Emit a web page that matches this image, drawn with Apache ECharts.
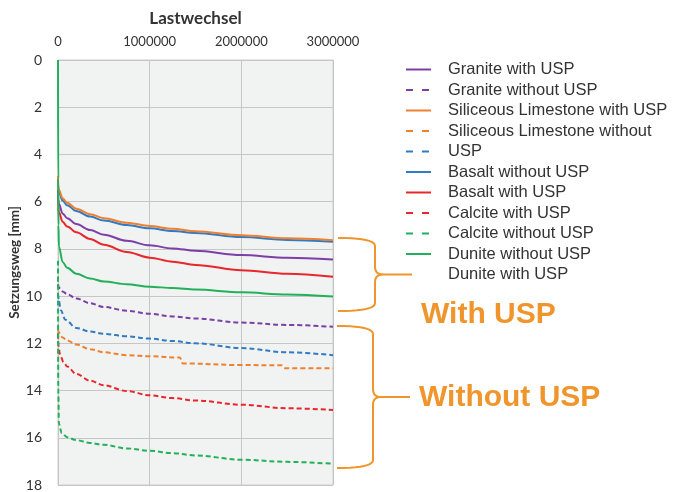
<!DOCTYPE html>
<html>
<head>
<meta charset="utf-8">
<script src="https://cdn.jsdelivr.net/npm/echarts@6/dist/echarts.min.js"></script>
<style>
  html, body { margin: 0; padding: 0; background: #fff; }
  #main { width: 678px; height: 492px; }
</style>
</head>
<body>
<div id="main"></div>
<script>
// tick labels
var xTicks = [0, 1000000, 2000000, 3000000];
var yTicks = [0, 2, 4, 6, 8, 10, 12, 14, 16, 18];

// [Lastwechsel, Setzungsweg mm]
var graniteWith = [[0, 5.5], [2000, 5.9], [10000, 6.1], [50000, 6.5], [100000, 6.7], [200000, 6.95], [350000, 7.2], [500000, 7.4], [750000, 7.66], [1000000, 7.85], [1250000, 7.98], [1500000, 8.08], [2000000, 8.26], [2500000, 8.38], [3000000, 8.45]];
var graniteWithout = [[0, 9.5], [10000, 9.65], [50000, 9.8], [100000, 9.92], [200000, 10.1], [350000, 10.3], [500000, 10.46], [750000, 10.62], [1000000, 10.75], [1250000, 10.86], [1500000, 10.95], [2000000, 11.12], [2500000, 11.22], [3000000, 11.3]];
var limestoneWith = [[0, 4.9], [2000, 5.3], [10000, 5.5], [50000, 5.85], [100000, 6.05], [200000, 6.3], [350000, 6.53], [500000, 6.7], [750000, 6.89], [1000000, 7.03], [1250000, 7.15], [1500000, 7.25], [2000000, 7.42], [2500000, 7.55], [3000000, 7.63]];
var limestoneWithout = [[0, 11.4], [10000, 11.55], [50000, 11.75], [100000, 11.88], [200000, 12.05], [350000, 12.25], [500000, 12.38], [750000, 12.5], [1000000, 12.55], [1330000, 12.6], [1360000, 12.85], [2000000, 12.92], [2440000, 12.93], [2470000, 13.05], [3000000, 13.06]];
var uspDashed = [[0, 9.9], [10000, 10.2], [30000, 10.6], [80000, 11.0], [200000, 11.35], [350000, 11.5], [500000, 11.6], [750000, 11.7], [1000000, 11.8], [1250000, 11.9], [1500000, 12.0], [2000000, 12.2], [2500000, 12.38], [3000000, 12.5]];
var basaltWithout = [[0, 5.0], [2000, 5.4], [10000, 5.6], [50000, 5.95], [100000, 6.15], [200000, 6.4], [350000, 6.63], [500000, 6.8], [750000, 6.99], [1000000, 7.13], [1250000, 7.24], [1500000, 7.33], [2000000, 7.5], [2500000, 7.62], [3000000, 7.7]];
var basaltWith = [[0, 5.8], [2000, 6.2], [10000, 6.45], [50000, 6.85], [100000, 7.05], [200000, 7.3], [350000, 7.58], [500000, 7.82], [750000, 8.13], [1000000, 8.37], [1250000, 8.54], [1500000, 8.68], [2000000, 8.9], [2500000, 9.05], [3000000, 9.18]];
var calciteWith = [[0, 11.6], [5000, 12.1], [20000, 12.45], [60000, 12.8], [100000, 12.98], [200000, 13.3], [350000, 13.58], [500000, 13.78], [750000, 14.02], [1000000, 14.2], [1250000, 14.32], [1500000, 14.42], [2000000, 14.6], [2500000, 14.75], [3000000, 14.82]];
var calciteWithout = [[0, 8.5], [3000, 14.0], [10000, 15.4], [40000, 15.8], [100000, 15.98], [200000, 16.1], [350000, 16.22], [500000, 16.3], [750000, 16.45], [1000000, 16.55], [1250000, 16.65], [1500000, 16.75], [2000000, 16.93], [2500000, 17.02], [3000000, 17.1]];
var duniteWithout = [[0, 0], [2000, 5.0], [5000, 7.0], [10000, 7.9], [50000, 8.55], [100000, 8.8], [200000, 9.05], [350000, 9.25], [500000, 9.38], [750000, 9.5], [1000000, 9.6], [1250000, 9.66], [1500000, 9.72], [2000000, 9.84], [2500000, 9.93], [3000000, 10.02]];

var seriesNames = [
  "Granite with USP",
  "Granite without USP",
  "Siliceous Limestone with USP",
  "Siliceous Limestone without",
  "USP",
  "Basalt without USP",
  "Basalt with USP",
  "Calcite with USP",
  "Calcite without USP",
  "Dunite without USP",
  "Dunite with USP"
];
var seriesData = [graniteWith, graniteWithout, limestoneWith, limestoneWithout, uspDashed, basaltWithout, basaltWith, calciteWith, calciteWithout, duniteWithout, []];
var seriesColors = ["#7b3fa6", "#7b3fa6", "#ee8030", "#ee8030", "#2f7bc4", "#2f7bc4", "#e8262b", "#e8262b", "#22b05a", "#22b05a", "transparent"];
var seriesDashed = [false, true, false, true, true, false, false, true, true, false, false];

function mkSeries(i) {
  return {
    name: seriesNames[i],
    type: "line",
    data: seriesData[i],
    showSymbol: false,
    symbol: "none",
    smooth: 0.35,
    smoothMonotone: "x",
    animation: false,
    z: seriesDashed[i] ? 3 : 4,
    itemStyle: { color: seriesColors[i] },
    lineStyle: {
      color: seriesColors[i],
      width: 2,
      type: seriesDashed[i] ? [5, 3] : "solid"
    }
  };
}

// draw order: blue solid under orange solid
var order = [0, 1, 3, 4, 5, 2, 6, 7, 8, 9, 10];
var series = order.map(mkSeries);

// curly brace outline as polyline points (annotation only)
function quad(pts, p0, c, p1) {
  for (var t = 0.1; t <= 1.001; t += 0.1) {
    var a = (1 - t) * (1 - t), b = 2 * (1 - t) * t, d = t * t;
    pts.push([a * p0[0] + b * c[0] + d * p1[0], a * p0[1] + b * c[1] + d * p1[1]]);
  }
}
function brace(x0, y0, y1, xm, xt) {
  var r = 8, ym = (y0 + y1) / 2;
  var top = [[x0, y0]];
  quad(top, [x0, y0], [xm, y0], [xm, y0 + r]);
  top.push([xm, ym - r]);
  quad(top, [xm, ym - r], [xm, ym], [xm + r, ym]);
  top.push([xt, ym]);
  var bot = [[xm + r, ym]];
  quad(bot, [xm + r, ym], [xm, ym], [xm, ym + r]);
  bot.push([xm, y1 - r]);
  quad(bot, [xm, y1 - r], [xm, y1], [x0, y1]);
  return [top, bot];
}

var orange = "#f0952c";
var braceParts = brace(338, 238, 311, 375, 412).concat(brace(337, 326, 468, 373, 410));
var graphics = braceParts.map(function (pts) {
  return {
    type: "polyline",
    shape: { points: pts },
    style: { fill: null, stroke: orange, lineWidth: 2 }
  };
});
graphics.push({
  type: "text",
  left: 421,
  top: 300,
  style: { text: "With USP", fill: orange, font: "bold 30px 'Liberation Sans'" }
});
graphics.push({
  type: "text",
  left: 419,
  top: 383,
  style: { text: "Without USP", fill: orange, font: "bold 30px 'Liberation Sans'" }
});

var option = {
  backgroundColor: "#fff",
  animation: false,
  grid: {
    left: 58,
    top: 60,
    right: 345,
    bottom: 7,
    show: true,
    backgroundColor: "#f1f2f2",
    borderColor: "#cfcfcf",
    borderWidth: 1
  },
  legend: {
    orient: "vertical",
    left: 405,
    top: 61,
    padding: 0,
    itemWidth: 25,
    itemHeight: 14,
    itemGap: 3.5,
    itemStyle: { opacity: 0 },
    data: seriesNames.map(function (n, i) {
      if (i === 10) return { name: n, icon: "none" };
      if (seriesDashed[i]) return { name: n, lineStyle: { type: [7, 9] } };
      return { name: n };
    }),
    textStyle: {
      fontFamily: "Liberation Sans",
      fontSize: 16.5,
      color: "#333",
      lineHeight: 14,
      padding: [0, 0, 0, 12]
    },
    selectedMode: false
  },
  xAxis: {
    type: "value",
    position: "top",
    min: 0,
    max: 3000000,
    interval: 1000000,
    name: "Lastwechsel",
    nameLocation: "middle",
    nameGap: 33,
    nameTextStyle: { fontFamily: "Lato", fontWeight: "bold", fontSize: 17, color: "#333" },
    axisLine: { show: false },
    axisTick: { show: false },
    axisLabel: {
      fontFamily: "Lato",
      fontSize: 13,
      color: "#333",
      margin: 12,
      formatter: function (v) { return xTicks.indexOf(v) >= 0 ? String(v) : ""; }
    },
    splitLine: { show: true, lineStyle: { color: "#c6c6c6", width: 1 } }
  },
  yAxis: {
    type: "value",
    inverse: true,
    min: 0,
    max: 18,
    interval: 2,
    name: "Setzungsweg [mm]",
    nameLocation: "middle",
    nameGap: 36,
    nameTextStyle: { fontFamily: "Lato", fontWeight: "bold", fontSize: 13.5, color: "#333", padding: [0, 0, 0, 20] },
    axisLine: { show: false },
    axisTick: { show: false },
    axisLabel: {
      fontFamily: "Lato",
      fontSize: 14,
      color: "#333",
      margin: 16,
      formatter: function (v) { return yTicks.indexOf(v) >= 0 ? String(v) : ""; }
    },
    splitLine: { show: true, lineStyle: { color: "#c6c6c6", width: 1 } }
  },
  graphic: graphics,
  series: series
};

var myChart = echarts.init(document.getElementById("main"));
myChart.setOption(option);
</script>
</body>
</html>
